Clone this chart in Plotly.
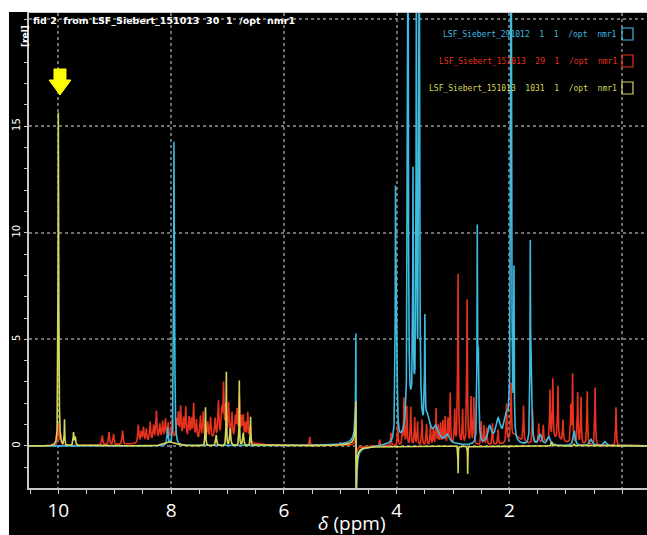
import numpy as np
import plotly.graph_objects as go

# ---- spectrum peak tables (ppm, relative height, half width in ppm) ----
cyan_ppm = [8.06, 7.95, 7.94, 4.02, 4.00, 3.80, 3.71, 3.65, 3.60, 3.50, 3.45, 3.70,
            3.30, 3.10, 2.57, 2.55, 2.35, 2.20, 2.05, 1.97, 1.92, 1.63, 1.61,
            1.45, 1.30, 0.85, 0.55, 0.30]
cyan_height = [0.8, 12.0, 4.5, 10.8, 4.5, 28.0, 10.5, 20.0, 28.0, 5.0, 1.0, 2.0,
               0.7, 0.4, 9.5, 4.0, 0.8, 1.1, 1.2, 30.0, 7.5, 8.8, 3.0,
               0.5, 0.4, 0.7, 0.3, 0.2]
cyan_width = [0.010, 0.005, 0.010, 0.006, 0.012, 0.008, 0.005, 0.006, 0.008, 0.006, 0.05, 0.10,
              0.06, 0.05, 0.005, 0.010, 0.04, 0.05, 0.05, 0.008, 0.005, 0.005, 0.012,
              0.03, 0.03, 0.02, 0.03, 0.03]

red_ppm = [10.00, 9.96, 9.22, 9.10, 9.02, 8.86, 8.58, 8.53, 8.49, 8.44, 8.37, 8.31,
           8.26, 8.20, 8.15, 8.10, 8.05, 7.98, 7.90, 7.87, 7.83, 7.78, 7.74, 7.68,
           7.64, 7.60, 7.55, 7.48, 7.43, 7.35, 7.30, 7.22, 7.16, 7.10, 7.07, 7.03,
           6.98, 6.92, 6.86, 6.83, 6.79, 6.75, 6.72, 6.68, 6.64, 6.60, 8.0, 7.1,
           5.54, 5.00, 4.30, 4.10, 3.98, 3.87, 3.82, 3.75, 3.68, 3.63, 3.55, 3.47,
           3.40, 3.35, 3.30, 3.26, 3.22, 3.18, 3.14, 3.09, 3.05, 2.97, 2.91, 2.83,
           2.75, 2.68, 2.63, 2.50, 2.45, 2.40, 2.30, 2.20, 2.05, 1.97, 1.75, 1.59,
           1.48, 1.40, 1.28, 1.23, 1.14, 1.05, 0.91, 0.88, 0.79, 0.73, 0.62, 0.48,
           0.11, 3.90, 3.30, 1.90, 1.20]
red_height = [1.0, 0.5, 0.45, 0.6, 0.5, 0.65, 0.85, 0.5, 0.7, 0.6, 0.9, 0.7,
              1.35, 0.7, 0.8, 0.9, 0.7, 0.9, 0.8, 1.1, 1.45, 0.9, 1.45, 1.0,
              0.9, 1.65, 0.9, 1.1, 1.3, 0.8, 1.0, 0.9, 1.7, 1.2, 2.4, 1.4,
              1.6, 1.2, 1.0, 1.3, 2.0, 1.0, 1.1, 0.8, 1.35, 0.7, 0.3, 0.3,
              0.4, 0.15, 0.3, 0.6, 1.0, 2.2, 1.8, 1.8, 1.3, 1.1, 1.2, 1.0,
              0.9, 0.8, 1.2, 0.9, 1.0, 1.1, 1.3, 1.2, 2.4, 1.6, 8.0, 1.6,
              6.8, 2.2, 2.2, 1.1, 0.9, 0.8, 1.0, 0.7, 1.8, 2.6, 1.7, 1.6,
              0.9, 0.8, 2.3, 2.8, 2.5, 1.0, 1.7, 3.2, 2.4, 2.2, 2.5, 2.7,
              1.8, 0.6, 0.5, 0.5, 0.3]
red_width = [0.010] * 46 + [0.4, 0.3] + [0.007] * 51 + [0.10, 0.20, 0.20, 0.20]

yellow_ppm = [10.00, 9.993, 9.89, 9.73, 9.70, 8.00, 7.39, 7.20, 7.02, 6.95, 6.79, 6.72,
              6.59, 2.91, 2.74, 1.25, 0.85]
yellow_height = [12.8, 5.0, 1.2, 0.6, 0.4, 0.2, 1.8, 0.5, 3.45, 0.8, 3.05, 0.6,
                 1.35, -1.27, -1.3, 0.2, 0.1]
yellow_width = [0.004, 0.008, 0.005, 0.008, 0.010, 0.10, 0.005, 0.010, 0.004, 0.010, 0.004, 0.010,
                0.005, 0.003, 0.003, 0.010, 0.010]

# residual water line (absorptive + dispersive part, per spectrum)
water_ppm = 4.72
water_width = 0.003
water_absorptive = {"cyan": 2.5, "red": 0.0, "yellow": -0.4}
water_dispersive = {"cyan": 3.8, "red": 0.7, "yellow": 2.3}

x_ticks = [10, 8, 6, 4, 2, 0]
x_tick_text = ["10", "8", "6", "4", "2", ""]
y_ticks = [0, 5, 10, 15, 20]
y_tick_text = ["0", "5", "10", "15", ""]

legend_names = ["LSF_Siebert_291012  1  1  /opt  nmr1",
                "LSF_Siebert_151013  29  1  /opt  nmr1",
                "LSF_Siebert_151013  1031  1  /opt  nmr1"]

CYAN = "#3dbbe0"
RED = "#e8321e"
YELLOW = "#d6d65a"

ppm = np.arange(-0.5, 10.6, 0.001)


def spectrum(centres, heights, widths, name):
    y = np.zeros_like(ppm)
    for c, h, w in zip(centres, heights, widths):
        y += h * w * w / ((ppm - c) ** 2 + w * w)
    d = ppm - water_ppm
    w = water_width
    y += water_absorptive[name] * w * w / (d * d + w * w)
    y += water_dispersive[name] * 2 * w * d / (d * d + w * w)
    return y


fig = go.Figure()
for name, col, (c, h, w) in [
    ("red", RED, (red_ppm, red_height, red_width)),
    ("cyan", CYAN, (cyan_ppm, cyan_height, cyan_width)),
    ("yellow", YELLOW, (yellow_ppm, yellow_height, yellow_width)),
]:
    fig.add_trace(go.Scatter(x=ppm, y=spectrum(c, h, w, name), mode="lines",
                             line=dict(color=col, width=1.6), hoverinfo="skip",
                             showlegend=False))

W, H = 647, 535
L, R, T, B = 29, 0, 13, 47
PW, PH = W - L - R, H - T - B


def px(xp):
    return (xp - L) / PW


def py(yp):
    return (H - B - yp) / PH


fig.update_layout(
    width=W, height=H,
    margin=dict(l=L, r=R, t=T, b=B),
    paper_bgcolor="black", plot_bgcolor="black",
    xaxis=dict(range=[10.52, -0.44], tickmode="array", tickvals=x_ticks,
               ticktext=x_tick_text, showgrid=True, gridcolor="#6e6e6e",
               griddash="dot", gridwidth=1.5, zeroline=False, showline=True,
               linecolor="#c8c8c8", linewidth=2, mirror=True, ticks="outside",
               ticklen=4, tickcolor="#c8c8c8",
               tickfont=dict(family="Open Sans", size=19, color="white"),
               minor=dict(tickvals=list(np.arange(0, 10.51, 0.5)), ticks="outside",
                          ticklen=4, tickcolor="#c8c8c8", showgrid=False)),
    yaxis=dict(range=[-1.97, 20.3], tickmode="array", tickvals=y_ticks,
               ticktext=y_tick_text, showgrid=True, gridcolor="#6e6e6e",
               griddash="dot", gridwidth=1.5, zeroline=False, showline=True,
               linecolor="#c8c8c8", linewidth=2, ticks="outside", ticklen=3,
               tickcolor="#c8c8c8", tickangle=-90,
               tickfont=dict(family="DejaVu Sans", size=10, color="white"),
               minor=dict(dtick=1, ticks="outside", ticklen=3, tickcolor="#c8c8c8",
                          showgrid=False)),
)

# white frame strips around the black viewer window
fig.add_shape(type="rect", xref="paper", yref="paper", x0=-0.2, x1=1.2,
              y0=py(12), y1=py(-5), fillcolor="white", line_width=0, layer="above")
fig.add_shape(type="rect", xref="paper", yref="paper", x0=px(-5), x1=px(9),
              y0=py(540), y1=py(0), fillcolor="white", line_width=0, layer="above")

# header and axis labels
fig.add_annotation(text="<b>fid 2  from LSF_Siebert_151013  30  1  /opt  nmr1</b>",
                   xref="paper", yref="paper", x=px(31), y=py(21), xanchor="left",
                   yanchor="middle", showarrow=False,
                   font=dict(family="DejaVu Sans", size=9.5, color="white"))
fig.add_annotation(text="<b>[rel]</b>", xref="paper", yref="paper", x=px(18), y=py(23),
                   textangle=-90, showarrow=False,
                   font=dict(family="DejaVu Sans", size=9, color="white"))
fig.add_annotation(text="<i>δ</i> (ppm)", xref="paper", yref="paper", x=px(352),
                   y=py(523), xanchor="center", yanchor="middle", showarrow=False,
                   font=dict(family="Open Sans", size=19, color="white"))

# spectrum list in the top right corner
for i, (txt, col) in enumerate(zip(legend_names, [CYAN, RED, YELLOW])):
    yc = 34 + 27 * i
    fig.add_annotation(text=txt, xref="paper", yref="paper", x=px(619), y=py(yc),
                       xanchor="right", yanchor="middle", showarrow=False,
                       font=dict(family="DejaVu Sans Mono", size=8, color=col))
    fig.add_shape(type="rect", xref="paper", yref="paper", x0=px(622), x1=px(633),
                  y0=py(yc + 6), y1=py(yc - 6), line=dict(color=col, width=1.2),
                  fillcolor="rgba(0,0,0,0)", layer="above")

# yellow marker arrow above the aldehyde signal
cx = 60
pts = [(cx - 6, 69), (cx + 6, 69), (cx + 6, 80), (cx + 11, 80), (cx, 95),
       (cx - 11, 80), (cx - 6, 80)]
path = "M " + " L ".join(f"{px(a):.5f},{py(b):.5f}" for a, b in pts) + " Z"
fig.add_shape(type="path", xref="paper", yref="paper", path=path,
              fillcolor="#ffff00", line=dict(color="#ffff00", width=1), layer="above")

fig.write_html("out.html")
